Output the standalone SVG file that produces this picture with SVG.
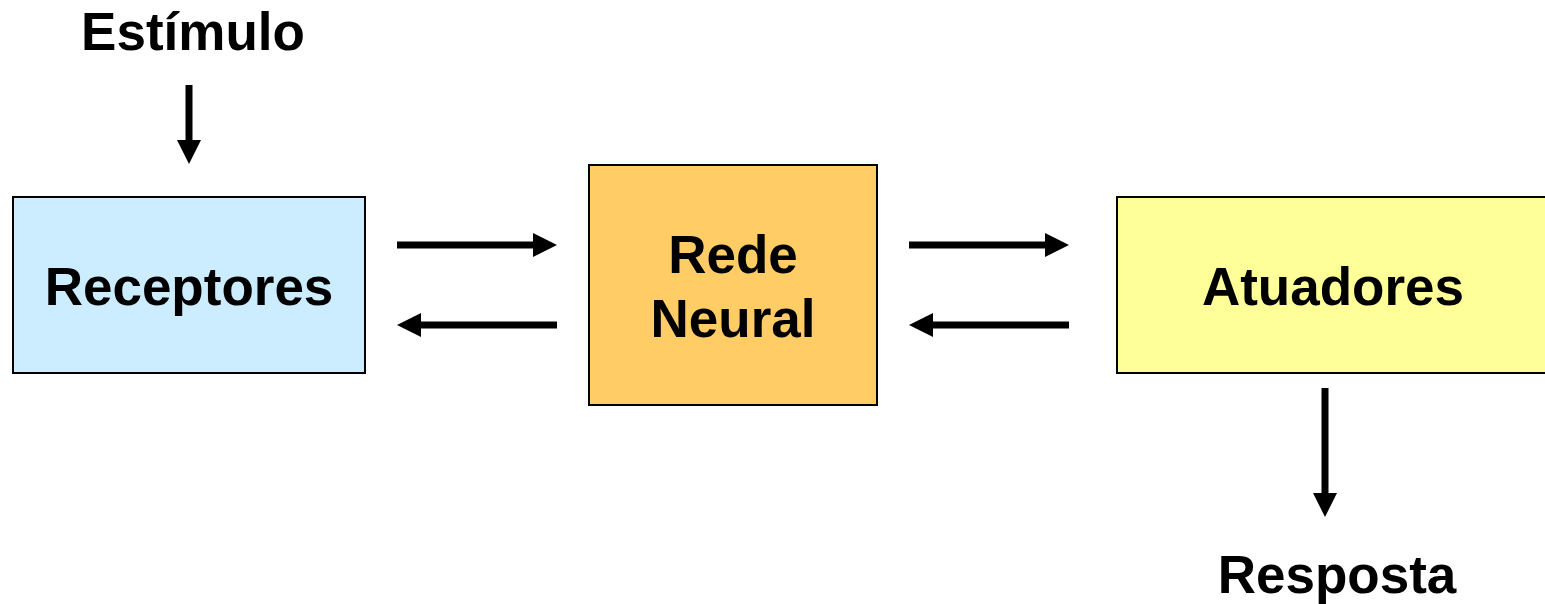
<svg xmlns="http://www.w3.org/2000/svg" width="1545" height="604" viewBox="0 0 1545 604">
  <style>
    .box { stroke: #000; stroke-width: 2; }
    .lbl { font-family: "Liberation Sans", Arial, sans-serif; font-weight: bold; font-size: 53px; fill: #000; text-anchor: middle; }
    .conn { stroke: #000; stroke-width: 7; fill: none; marker-end: url(#head); }
  </style>
  <defs>
    <!-- arrowhead starts where the shaft stops, so the shaft never pokes through the tip -->
    <marker id="head" viewBox="0 0 24 24" refX="1" refY="12" markerWidth="24" markerHeight="24" markerUnits="userSpaceOnUse" orient="auto">
      <path d="M0,0 L24,12 L0,24 Z" fill="#000"/>
    </marker>
  </defs>
  <rect width="1545" height="604" fill="#fff"/>

  <g id="estimulo">
    <text class="lbl" x="193" y="50">Estímulo</text>
  </g>

  <g id="receptores">
    <rect class="box" x="13" y="197" width="352" height="176" fill="#CCECFF"/>
    <text class="lbl" x="189" y="305">Receptores</text>
  </g>

  <g id="rede-neural">
    <rect class="box" x="589" y="165" width="288" height="240" fill="#FFCC66"/>
    <text class="lbl" x="733" y="273">Rede</text>
    <text class="lbl" x="733" y="337">Neural</text>
  </g>

  <g id="atuadores">
    <rect class="box" x="1117" y="197" width="440" height="176" fill="#FFFF99"/>
    <text class="lbl" x="1333" y="305">Atuadores</text>
  </g>

  <g id="resposta">
    <text class="lbl" x="1337" y="593">Resposta</text>
  </g>

  <!-- each shaft stops 23px short of its tip; the marker supplies the head -->
  <g id="connectors">
    <line class="conn" x1="189" y1="85" x2="189" y2="141"/>
    <line class="conn" x1="397" y1="245" x2="534" y2="245"/>
    <line class="conn" x1="557" y1="325" x2="420" y2="325"/>
    <line class="conn" x1="909" y1="245" x2="1046" y2="245"/>
    <line class="conn" x1="1069" y1="325" x2="932" y2="325"/>
    <line class="conn" x1="1325" y1="388" x2="1325" y2="494"/>
  </g>
</svg>
